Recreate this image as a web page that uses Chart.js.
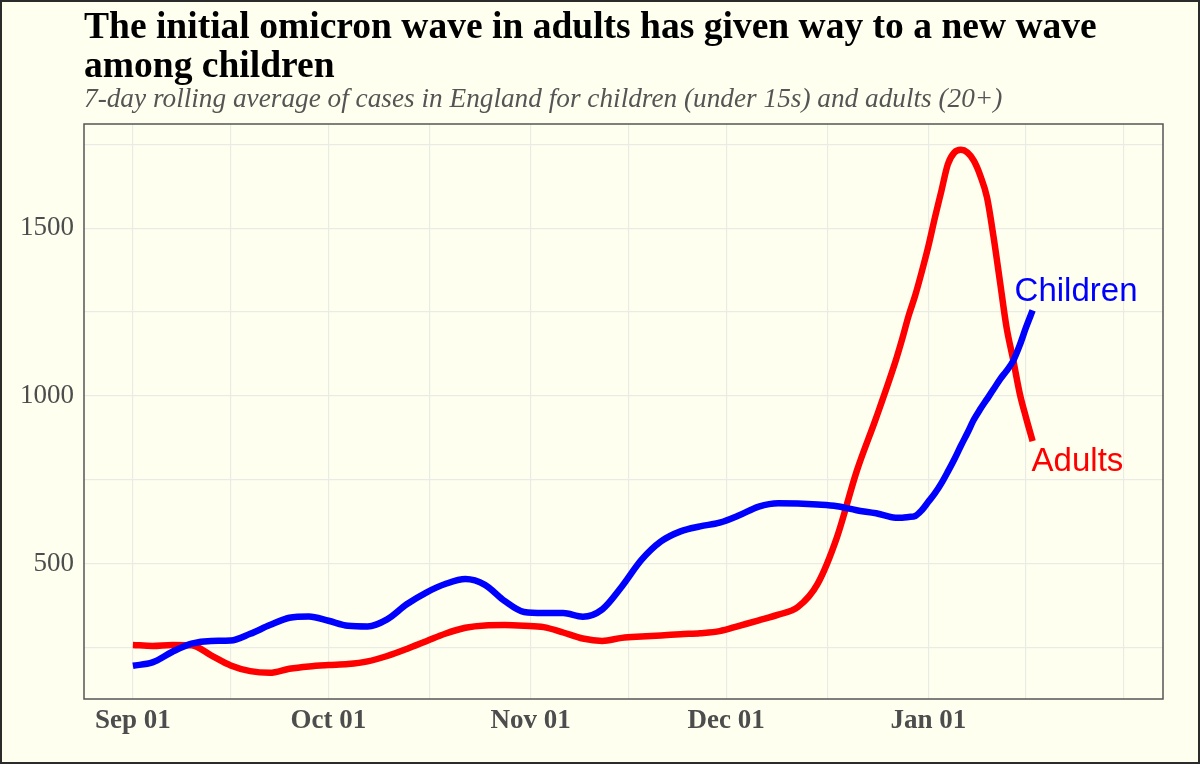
<!DOCTYPE html>
<html>
<head>
<meta charset="utf-8">
<script src="https://cdn.jsdelivr.net/npm/chart.js@4"></script>
<style>
  html, body { margin: 0; padding: 0; background: #fffff0; }
  canvas { display: block; }
</style>
</head>
<body>
<canvas id="chart" width="1200" height="764"></canvas>
<script>
// days since Sep 01
const days = [0, 3, 6, 9, 12, 15, 18, 21, 24, 27, 30, 33, 36, 39, 42, 45, 48, 51, 54, 57,
  60, 63, 66, 69, 72, 75, 78, 81, 84, 87, 90, 93, 96, 99, 102, 105, 108, 111, 114, 117,
  118, 119, 120, 121, 122, 123, 124, 125, 126, 127, 128, 129, 130, 131, 132, 133, 134, 135, 136, 137, 138]

const children = [197, 207, 238, 263, 271, 272, 292, 318, 340, 344, 331, 316, 314, 335, 380, 415, 441, 455, 438, 390,
  357, 354, 354, 343, 365, 433, 512, 567, 597, 612, 623, 645, 671, 681, 680, 677, 672, 660, 651, 638,
  638, 640, 643, 660, 685, 710, 740, 775, 812, 852, 890, 930, 962, 991, 1020, 1050, 1075, 1104, 1150, 1205, 1255]

const adults = [259, 256, 259, 258, 228, 198, 181, 176, 188, 195, 199, 202, 210, 226, 247, 270, 293, 310, 317, 318,
  316, 312, 296, 278, 271, 280, 284, 287, 291, 294, 300, 316, 332, 349, 372, 440, 580, 775, 935, 1105,
  1170, 1240, 1300, 1370, 1445, 1530, 1610, 1690, 1725, 1733, 1725, 1700, 1655, 1592, 1475, 1340, 1205, 1110, 1010, 935, 866]

const tickDays = [0, 30, 61, 91, 122]
const tickNames = ['Sep 01', 'Oct 01', 'Nov 01', 'Dec 01', 'Jan 01']
const minorDays = [15, 45.5, 76, 106.5, 137, 152]
const yGrid = [250, 500, 750, 1000, 1250, 1500, 1750]
const yLabelled = [500, 1000, 1500]

const title1 = 'The initial omicron wave in adults has given way to a new wave'
const title2 = 'among children'
const subtitle = '7-day rolling average of cases in England for children (under 15s) and adults (20+)'

const bg = '#fffff0'
const gridColor = '#ebebe6'
const tickColor = '#4d4d4d'

function fitFont(ctx, text, style, family, width) {
  ctx.font = style + ' 40px ' + family
  const w = ctx.measureText(text).width
  return 40 * width / w
}

const decor = {
  id: 'decor',
  beforeDraw(chart) {
    const ctx = chart.ctx
    ctx.save()
    ctx.fillStyle = bg
    ctx.fillRect(0, 0, chart.width, chart.height)
    ctx.restore()
  },
  afterDraw(chart) {
    const ctx = chart.ctx
    const area = chart.chartArea
    ctx.save()

    // titles
    const tSize = fitFont(ctx, title1, 'bold', '"Liberation Serif"', 1013)
    ctx.fillStyle = '#000'
    ctx.textAlign = 'left'
    ctx.textBaseline = 'alphabetic'
    ctx.font = 'bold ' + tSize + 'px "Liberation Serif"'
    ctx.fillText(title1, 84, 38)
    ctx.fillText(title2, 84, 77)

    const sSize = fitFont(ctx, subtitle, 'italic', '"Liberation Serif"', 919)
    ctx.fillStyle = '#555'
    ctx.font = 'italic ' + sSize + 'px "Liberation Serif"'
    ctx.fillText(subtitle, 84, 107)

    // series labels at line ends
    ctx.font = '33px "Liberation Sans"'
    const mc = chart.getDatasetMeta(0).data
    const ma = chart.getDatasetMeta(1).data
    const pc = mc[mc.length - 1]
    const pa = ma[ma.length - 1]
    ctx.fillStyle = '#0000ff'
    ctx.fillText('Children', pc.x - 18, pc.y - 9)
    ctx.fillStyle = '#ff0000'
    ctx.fillText('Adults', pa.x - 1, pa.y + 30)

    // panel border
    ctx.strokeStyle = '#555'
    ctx.lineWidth = 1.5
    ctx.strokeRect(area.left, area.top, area.right - area.left, area.bottom - area.top)

    // outer frame
    ctx.strokeStyle = '#2b2b2b'
    ctx.lineWidth = 2
    ctx.strokeRect(1, 1, chart.width - 2, chart.height - 2)
    ctx.restore()
  }
}

const toPoints = vals => days.map((d, i) => ({ x: d, y: vals[i] }))

new Chart(document.getElementById('chart'), {
  type: 'line',
  data: {
    datasets: [
      {
        label: 'Children',
        data: toPoints(children),
        borderColor: '#0000ff',
        borderWidth: 6.5,
        pointRadius: 0,
        cubicInterpolationMode: 'monotone',
        borderCapStyle: 'butt'
      },
      {
        label: 'Adults',
        data: toPoints(adults),
        borderColor: '#ff0000',
        borderWidth: 6.5,
        pointRadius: 0,
        cubicInterpolationMode: 'monotone',
        borderCapStyle: 'butt'
      }
    ]
  },
  options: {
    responsive: false,
    animation: false,
    layout: { padding: { top: 124, right: 37, left: 0, bottom: 0 } },
    plugins: {
      legend: { display: false },
      tooltip: { enabled: false }
    },
    scales: {
      x: {
        type: 'linear',
        min: -7.5,
        max: 158,
        border: { display: false },
        grid: { color: gridColor, lineWidth: 1.2, drawTicks: false },
        afterBuildTicks: scale => {
          scale.ticks = tickDays.concat(minorDays).sort((a, b) => a - b).map(v => ({ value: v }))
        },
        afterFit: scale => { scale.height = 65 },
        ticks: {
          autoSkip: false,
          maxRotation: 0,
          padding: 6,
          color: tickColor,
          font: { family: '"Liberation Serif"', size: 27, weight: 'bold' },
          callback: v => {
            const i = tickDays.indexOf(v)
            return i >= 0 ? tickNames[i] : ''
          }
        }
      },
      y: {
        min: 98,
        max: 1810,
        border: { display: false },
        grid: { color: gridColor, lineWidth: 1.2, drawTicks: false },
        afterBuildTicks: scale => {
          scale.ticks = yGrid.map(v => ({ value: v }))
        },
        afterFit: scale => { scale.width = 84 },
        ticks: {
          padding: 10,
          color: tickColor,
          font: { family: '"Liberation Serif"', size: 27 },
          callback: v => yLabelled.includes(v) ? String(v) : ''
        }
      }
    }
  },
  plugins: [decor]
})
</script>
</body>
</html>
